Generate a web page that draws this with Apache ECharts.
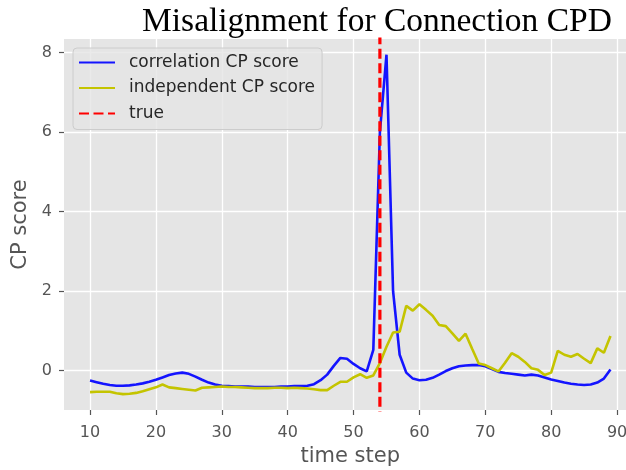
<!DOCTYPE html>
<html>
<head>
<meta charset="utf-8">
<script src="https://cdn.jsdelivr.net/npm/echarts@6/dist/echarts.min.js"></script>
<style>
  html, body { margin: 0; padding: 0; background: #ffffff; }
  #chart { width: 626px; height: 470px; }
</style>
</head>
<body>
<div id="chart"></div>
<script>
// Time steps on the x axis
const timeSteps = [
  10, 11, 12, 13, 14, 15, 16, 17, 18, 19,
  20, 21, 22, 23, 24, 25, 26, 27, 28, 29,
  30, 31, 32, 33, 34, 35, 36, 37, 38, 39,
  40, 41, 42, 43, 44, 45, 46, 47, 48, 49,
  50, 51, 52, 53, 54, 55, 56, 57, 58, 59,
  60, 61, 62, 63, 64, 65, 66, 67, 68, 69,
  70, 71, 72, 73, 74, 75, 76, 77, 78, 79,
  80, 81, 82, 83, 84, 85, 86, 87, 88, 89
];

// Change-point score from the correlation model
const correlationScore = [
  -0.25, -0.29, -0.33, -0.36, -0.38, -0.38, -0.37, -0.35, -0.32, -0.28,
  -0.23, -0.17, -0.11, -0.07, -0.05, -0.08, -0.15, -0.23, -0.30, -0.35,
  -0.38, -0.39, -0.40, -0.40, -0.40, -0.41, -0.41, -0.41, -0.41, -0.40,
  -0.40, -0.39, -0.39, -0.38, -0.34, -0.24, -0.10, 0.12, 0.32, 0.30,
  0.17, 0.06, -0.02, 0.52, 6.00, 7.95, 2.00, 0.40, -0.05, -0.20,
  -0.24, -0.23, -0.18, -0.10, -0.01, 0.06, 0.11, 0.13, 0.14, 0.14,
  0.11, 0.04, -0.03, -0.06, -0.08, -0.10, -0.12, -0.10, -0.12, -0.17,
  -0.22, -0.26, -0.30, -0.33, -0.35, -0.36, -0.35, -0.30, -0.20, 0.03
];

// Change-point score from the independent model
const independentScore = [
  -0.54, -0.53, -0.53, -0.53, -0.57, -0.59, -0.58, -0.56, -0.52, -0.47,
  -0.42, -0.35, -0.42, -0.44, -0.46, -0.48, -0.50, -0.43, -0.42, -0.41,
  -0.40, -0.41, -0.41, -0.42, -0.43, -0.44, -0.44, -0.44, -0.43, -0.43,
  -0.44, -0.43, -0.44, -0.45, -0.47, -0.49, -0.49, -0.38, -0.28, -0.28,
  -0.17, -0.09, -0.18, -0.12, 0.19, 0.60, 0.96, 0.98, 1.63, 1.51,
  1.67, 1.53, 1.38, 1.15, 1.12, 0.94, 0.75, 0.93, 0.55, 0.18,
  0.14, 0.06, -0.02, 0.20, 0.44, 0.35, 0.22, 0.06, 0.02, -0.11,
  -0.05, 0.50, 0.40, 0.35, 0.42, 0.30, 0.19, 0.56, 0.45, 0.87
];

// True change point
const trueChangePoint = 54;

// Tick labels
const xTicks = [10, 20, 30, 40, 50, 60, 70, 80, 90];
const yTicks = [0, 2, 4, 6, 8];

const seriesNames = ['correlation CP score', 'independent CP score', 'true'];

const pairs = (xs, ys) => xs.map((x, i) => [x, ys[i]]);

const chart = echarts.init(document.getElementById('chart'), null, { renderer: 'canvas' });

const tickText = { color: '#555555', fontSize: 16, fontFamily: 'DejaVu Sans' };
const nameText = { color: '#555555', fontSize: 21, fontFamily: 'DejaVu Sans' };
// Hidden spine kept at the plot edge: ticks stay visible, the line itself is transparent
const hiddenSpine = { show: true, onZero: false, lineStyle: { color: 'rgba(0,0,0,0)', width: 0 } };
const ggTick = (values) => ({
  show: true,
  customValues: values,
  length: 5,
  lineStyle: { color: '#555555', width: 1.2 }
});
const whiteGrid = { show: true, lineStyle: { color: '#ffffff', width: 1.3 } };

chart.setOption({
  animation: false,
  backgroundColor: '#ffffff',
  title: {
    text: 'Misalignment for Connection CPD',
    left: 137,
    top: 0,
    textStyle: {
      fontFamily: 'Liberation Serif',
      fontSize: 33.5,
      fontWeight: 'normal',
      color: '#000000'
    }
  },
  grid: {
    left: 64,
    right: -10.5,
    top: 39,
    bottom: 60,
    show: true,
    backgroundColor: '#e5e5e5',
    borderWidth: 0,
    outerBoundsMode: 'none'
  },
  legend: {
    data: seriesNames,
    orient: 'vertical',
    left: 73,
    top: 48,
    itemWidth: 36,
    itemHeight: 17,
    itemGap: 8.5,
    padding: [6, 7, 7.5, 5],
    backgroundColor: 'rgba(229,229,229,0.8)',
    borderColor: '#cccccc',
    borderWidth: 1,
    borderRadius: 4,
    itemStyle: { opacity: 0 },
    textStyle: {
      fontSize: 17,
      color: '#262626',
      fontFamily: 'DejaVu Sans',
      padding: [0, 0, 0, 9]
    }
  },
  xAxis: {
    type: 'value',
    min: 6.05,
    max: 92.95,
    name: 'time step',
    nameLocation: 'middle',
    nameGap: 36,
    nameTextStyle: nameText,
    axisLine: hiddenSpine,
    axisTick: ggTick(xTicks),
    axisLabel: Object.assign({ customValues: xTicks, margin: 15 }, tickText),
    splitLine: whiteGrid
  },
  yAxis: {
    type: 'value',
    min: -0.99,
    max: 8.345,
    name: 'CP score',
    nameLocation: 'middle',
    nameGap: 33,
    nameTextStyle: nameText,
    axisLine: hiddenSpine,
    axisTick: ggTick(yTicks),
    axisLabel: Object.assign({ customValues: yTicks, margin: 12 }, tickText),
    splitLine: whiteGrid
  },
  series: [
    {
      name: seriesNames[0],
      type: 'line',
      data: pairs(timeSteps, correlationScore),
      symbol: 'none',
      lineStyle: { color: '#1414ff', width: 2.6 },
      itemStyle: { color: '#1414ff' },
      clip: true
    },
    {
      name: seriesNames[1],
      type: 'line',
      data: pairs(timeSteps, independentScore),
      symbol: 'none',
      lineStyle: { color: '#c4c400', width: 2.6 },
      itemStyle: { color: '#c4c400' },
      clip: true
    },
    {
      name: seriesNames[2],
      type: 'line',
      data: [[trueChangePoint, -2], [trueChangePoint, 10]],
      symbol: 'none',
      lineStyle: { color: '#ff0000', width: 3.2, type: [10, 4.5] },
      itemStyle: { color: '#ff0000' },
      clip: true
    }
  ]
});
</script>
</body>
</html>
